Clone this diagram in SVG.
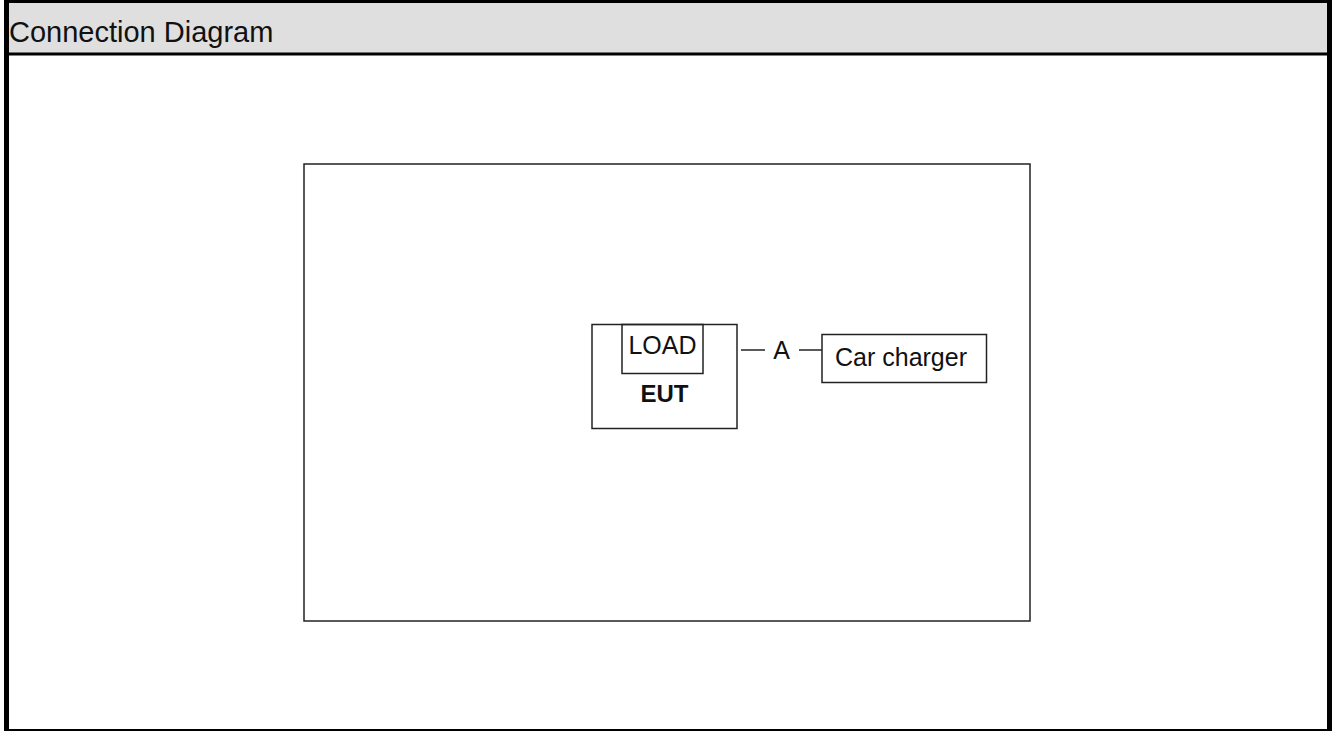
<svg xmlns="http://www.w3.org/2000/svg" width="1336" height="731" viewBox="0 0 1336 731">
<style>
.box{fill:none;stroke:#222;stroke-width:1.5}
.t{font-family:"Liberation Sans",Arial,sans-serif;fill:#111}
.wire{stroke:#222;stroke-width:1.5}
</style>
<rect x="0" y="0" width="1336" height="731" fill="#fff"/>
<g id="frame">
<rect x="6.5" y="1.5" width="1323" height="52" fill="#dfdfdf"/>
<rect x="4" y="0" width="1328" height="3" fill="#000"/>
<rect x="4" y="52.5" width="1328" height="3" fill="#000"/>
<rect x="4" y="0" width="5" height="731" fill="#000"/>
<rect x="1327" y="0" width="5" height="731" fill="#000"/>
<rect x="4" y="729" width="1328" height="2" fill="#000"/>
<text class="t" x="9" y="42" font-size="29">Connection Diagram</text>
</g>
<g id="area">
<rect class="box" x="304" y="164" width="726" height="457"/>
</g>
<g id="eut">
<rect class="box" x="592" y="324.5" width="145" height="104"/>
<text class="t" x="664.5" y="402" font-size="24" font-weight="bold" text-anchor="middle">EUT</text>
</g>
<g id="load">
<rect class="box" x="622" y="324.5" width="81" height="49"/>
<text class="t" x="662.5" y="354" font-size="25" text-anchor="middle">LOAD</text>
</g>
<g id="charger">
<rect class="box" x="822" y="334.5" width="164.5" height="48"/>
<text class="t" x="901" y="366" font-size="25" text-anchor="middle">Car charger</text>
</g>
<g id="connectors">
<line class="wire" x1="741" y1="350" x2="765" y2="350"/>
<line class="wire" x1="799" y1="350" x2="822" y2="350"/>
<text class="t" x="781.5" y="359" font-size="25" text-anchor="middle">A</text>
</g>
</svg>
